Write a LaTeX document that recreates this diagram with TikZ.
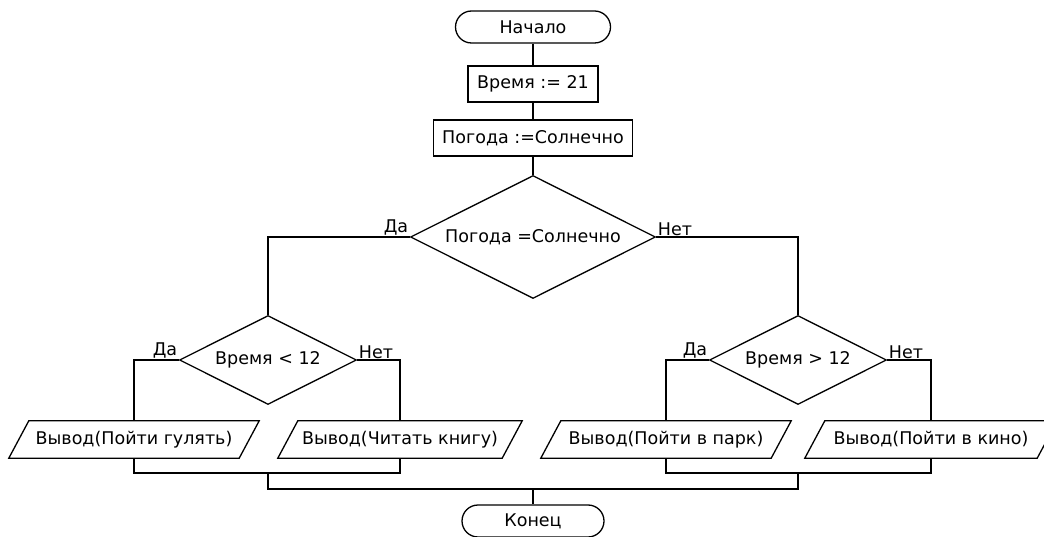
\documentclass[tikz,border=0pt]{standalone}
\usepackage{fontspec}
\setmainfont{DejaVu Sans}
\usetikzlibrary{shapes.geometric}
\begin{document}
\begin{tikzpicture}[x=1pt,y=-1pt,
  every node/.style={font=\fontsize{17.5}{20}\selectfont, inner sep=2pt},
  ln/.style={line width=1.3pt, black},
  term/.style={draw, ln, rounded corners=16pt, minimum height=32pt},
  proc/.style={draw, ln, rectangle, minimum height=36pt},
  dec/.style={draw, ln, diamond, aspect=2, inner sep=0pt},
  io/.style={rectangle, minimum height=37pt},
  lbl/.style={inner sep=1.5pt}
]
\useasboundingbox (0,0) rectangle (1044,537);
\node[term, minimum width=155pt] (start) at (533,27) {Начало};
\node[proc, minimum width=130pt] (b1) at (533,84) {Время := 21};
\node[proc, minimum width=199pt] (b2) at (533,138) {Погода :=Солнечно};
\node[dec, minimum width=245pt, minimum height=123pt] (d0) at (533,237) {Погода =Солнечно};
\node[dec, minimum width=177pt, minimum height=89pt] (d1) at (268,360) {Время < 12};
\node[dec, minimum width=177pt, minimum height=89pt] (d2) at (798,360) {Время > 12};
\node[io, minimum width=210pt] (p1) at (134,439.5) {Вывод(Пойти гулять)};
\node[io, minimum width=204pt] (p2) at (400,439.5) {Вывод(Читать книгу)};
\node[io, minimum width=210pt] (p3) at (666,439.5) {Вывод(Пойти в парк)};
\node[io, minimum width=212pt] (p4) at (931,439.5) {Вывод(Пойти в кино)};
\node[term, minimum width=142pt] (end) at (533,521) {Конец};
\foreach \n in {p1,p2,p3,p4}
  \draw[ln] ([xshift=-20]\n.south west) -- (\n.south east) -- ([xshift=20]\n.north east) -- (\n.north west) -- cycle;
% labels
\node[lbl, anchor=south east] at (d0.west) {Да};
\node[lbl, anchor=south west] at (d0.east) {Нет};
\node[lbl, anchor=south east] at (d1.west) {Да};
\node[lbl, anchor=south west] at (d1.east) {Нет};
\node[lbl, anchor=south east] at (d2.west) {Да};
\node[lbl, anchor=south west] at (d2.east) {Нет};
% connectors
\draw[ln] (start) -- (b1);
\draw[ln] (b1) -- (b2);
\draw[ln] (b2) -- (d0);
\draw[ln] (d0.west) -| (d1.north);
\draw[ln] (d0.east) -| (d2.north);
\draw[ln] (d1.west) -| (p1.north);
\draw[ln] (d1.east) -| (p2.north);
\draw[ln] (d2.west) -| (p3.north);
\draw[ln] (d2.east) -| (p4.north);
\coordinate (j1) at (268,473);
\coordinate (j2) at (798,473);
\coordinate (k1) at (268,489);
\coordinate (k2) at (798,489);
\coordinate (k0) at (533,489);
\draw[ln] (p1.south) |- (j1) -| (p2.south);
\draw[ln] (p3.south) |- (j2) -| (p4.south);
\draw[ln] (j1) -- (k1) -- (k2) -- (j2);
\draw[ln] (k0) -- (end);
\end{tikzpicture}
\end{document}
